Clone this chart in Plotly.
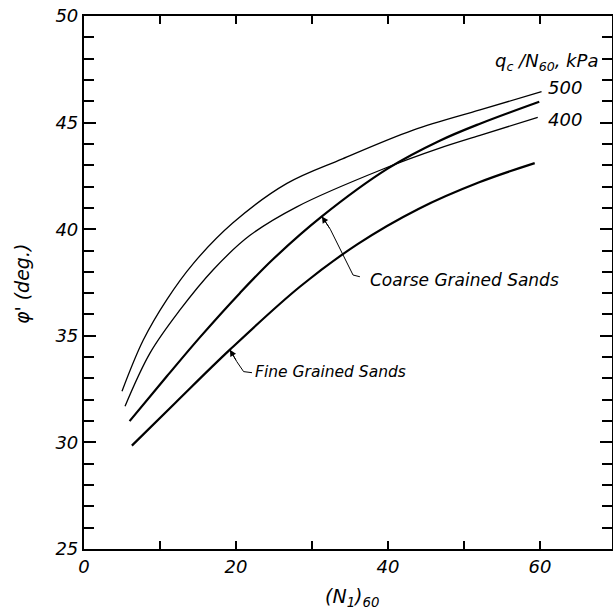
import plotly.graph_objects as go

# Friction angle vs corrected SPT blow count, (N1)60
# Thin curves: q_c/N_60 = 500 and 400 kPa; thick curves: coarse / fine grained sands
n500_x = [5.0, 7.8, 10.9, 14.4, 19.6, 26.7, 34.0, 43.3, 52.1, 60.2]
n500_y = [32.4, 34.8, 36.7, 38.4, 40.3, 42.15, 43.3, 44.65, 45.6, 46.45]

n400_x = [5.4, 8.7, 12.6, 17.0, 21.8, 28.0, 39.2, 46.8, 52.1, 59.7]
n400_y = [31.7, 34.2, 36.2, 38.1, 39.7, 41.05, 42.8, 43.8, 44.4, 45.25]

coarse_x = [6.0, 10.9, 15.3, 20.5, 24.9, 31.3, 40.0, 46.8, 52.1, 59.9]
coarse_y = [31.0, 33.1, 34.95, 37.0, 38.6, 40.6, 42.85, 44.15, 44.95, 45.98]

fine_x = [6.3, 12.0, 19.2, 28.4, 36.0, 44.0, 52.0, 59.3]
fine_y = [29.85, 31.85, 34.35, 37.3, 39.3, 40.95, 42.2, 43.1]

# leader lines for the curve labels (tip on curve first)
coarse_lead_x = [31.3, 32.4, 35.4, 36.3]
coarse_lead_y = [40.6, 40.0, 37.85, 37.77]
fine_lead_x = [19.2, 20.1, 21.0, 22.1]
fine_lead_y = [34.35, 33.79, 33.32, 33.27]

x_ticks = [0, 20, 40, 60]
y_ticks = [25, 30, 35, 40, 45, 50]

FONT = "DejaVu Sans"
ital = dict(family=FONT, style="italic", color="black")

fig = go.Figure()

def curve(x, y, w):
    fig.add_trace(go.Scatter(x=x, y=y, mode="lines",
                             line=dict(color="black", width=w, shape="spline", smoothing=1.0),
                             showlegend=False, hoverinfo="skip"))

curve(n500_x, n500_y, 1.3)
curve(n400_x, n400_y, 1.3)
curve(coarse_x, coarse_y, 2.2)
curve(fine_x, fine_y, 2.2)

for lx, ly in [(coarse_lead_x, coarse_lead_y), (fine_lead_x, fine_lead_y)]:
    fig.add_trace(go.Scatter(x=lx, y=ly, mode="lines",
                             line=dict(color="black", width=1),
                             showlegend=False, hoverinfo="skip"))
    fig.add_annotation(x=lx[0], y=ly[0], ax=lx[1], ay=ly[1], xref="x", yref="y",
                       axref="x", ayref="y", text="", showarrow=True,
                       arrowhead=2, arrowsize=1.3, arrowwidth=1, arrowcolor="black")

fig.add_annotation(x=37.4, y=37.62, text="Coarse Grained Sands", showarrow=False,
                   xanchor="left", yanchor="middle", font=dict(size=17, **ital))
fig.add_annotation(x=22.3, y=33.3, text="Fine Grained Sands", showarrow=False,
                   xanchor="left", yanchor="middle", font=dict(size=15.5, **ital))

fig.add_annotation(x=53.8, y=47.85, text="q<sub>c</sub> /N<sub>60</sub>, kPa", showarrow=False,
                   xanchor="left", yanchor="middle", font=dict(size=18, **ital))
fig.add_annotation(x=60.8, y=46.64, text="500", showarrow=False,
                   xanchor="left", yanchor="middle", font=dict(size=18, **ital))
fig.add_annotation(x=60.8, y=45.14, text="400", showarrow=False,
                   xanchor="left", yanchor="middle", font=dict(size=18, **ital))

# axis titles
fig.add_annotation(x=0.5076, y=-0.118, xref="paper", yref="paper",
                   text="(N<sub>1</sub>)<sub>60</sub>", showarrow=False,
                   font=dict(size=19, **ital))
fig.add_annotation(x=-0.142, y=0.497, xref="paper", yref="paper",
                   text="φ' (deg.)", textangle=-90, showarrow=False,
                   font=dict(size=19, **ital))

fig.update_xaxes(range=[0, 69.47], tickvals=x_ticks,
                 ticktext=[f"<i>{v}</i>" for v in x_ticks],
                 ticks="inside", ticklen=8, tickwidth=1.5, tickcolor="black",
                 minor=dict(dtick=10, tick0=0, ticks="inside", ticklen=8,
                            tickwidth=1.5, tickcolor="black"),
                 showline=True, linewidth=2.2, linecolor="black", mirror="ticks",
                 showgrid=False, zeroline=False, automargin=False,
                 tickfont=dict(size=18, **ital))
fig.update_yaxes(range=[25, 50], tickvals=y_ticks,
                 ticktext=[f"<i>{v}</i>" for v in y_ticks],
                 ticks="inside", ticklen=12, tickwidth=1.5, tickcolor="black",
                 minor=dict(dtick=1, tick0=25, ticks="inside", ticklen=10,
                            tickwidth=1.5, tickcolor="black"),
                 showline=True, linewidth=2.2, linecolor="black", mirror="ticks",
                 showgrid=False, zeroline=False, automargin=False,
                 tickfont=dict(size=18, **ital))

fig.update_layout(width=613, height=615,
                  margin=dict(l=84, r=1, t=16, b=66),
                  paper_bgcolor="white", plot_bgcolor="white",
                  font=dict(family=FONT, color="black"))

fig.write_html("out.html")
